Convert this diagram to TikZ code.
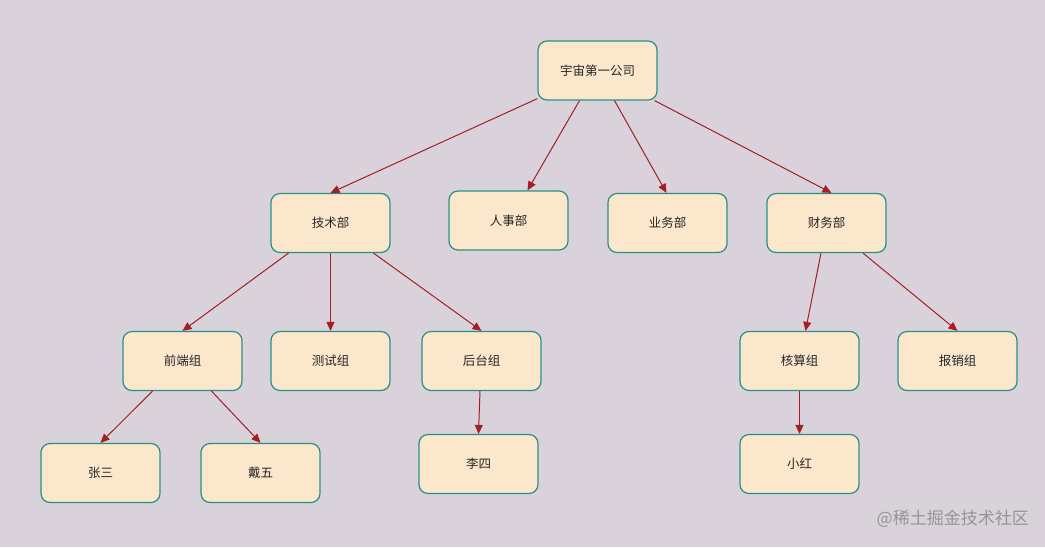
\documentclass[tikz,border=0pt]{standalone}
\usepackage{fontspec}
\newfontfamily\cjk{Noto Sans CJK SC}
\usetikzlibrary{arrows.meta}
\definecolor{bgc}{RGB}{217,210,218}
\definecolor{boxfill}{RGB}{251,231,203}
\definecolor{boxline}{RGB}{40,145,135}
\definecolor{arr}{RGB}{165,30,35}
\definecolor{wm}{RGB}{150,148,152}
\tikzset{
  orgbox/.style={draw=boxline, fill=boxfill, line width=1.2pt, rounded corners=9pt,
    minimum width=119pt, minimum height=59pt, inner sep=0pt,
    font=\cjk\fontsize{12.5}{14}\selectfont, text=black!85},
  link/.style={draw=arr, line width=1pt, -{Triangle[length=9pt,width=8pt]}}
}
\begin{document}
\begin{tikzpicture}[x=1pt,y=-1pt]
\fill[bgc] (0,0) rectangle (1045,547);
\useasboundingbox (0,0) rectangle (1045,547);
\node[orgbox] (root) at (597.5,70.5) {宇宙第一公司};
\node[orgbox] (tech) at (330.5,223) {技术部};
\node[orgbox] (hr) at (508.5,220.5) {人事部};
\node[orgbox] (biz) at (667.5,223) {业务部};
\node[orgbox] (fin) at (826.5,223) {财务部};
\node[orgbox] (fe) at (182.5,361) {前端组};
\node[orgbox] (qa) at (330.5,361) {测试组};
\node[orgbox] (be) at (481.5,361) {后台组};
\node[orgbox] (acc) at (799.5,361) {核算组};
\node[orgbox] (reim) at (957.5,361) {报销组};
\node[orgbox] (zs) at (100.5,473) {张三};
\node[orgbox] (dw) at (260.5,473) {戴五};
\node[orgbox] (ls) at (478.5,464) {李四};
\node[orgbox] (xh) at (799.5,464) {小红};
\node[font=\cjk\fontsize{17}{20}\selectfont, text=wm, anchor=east, inner sep=0pt] (wmk) at (1029,519) {@稀土掘金技术社区};

\draw[link] ([xshift=0pt,yshift=2pt]root.south west) -- (tech.north);
\draw[link] ([xshift=-18pt]root.south) -- ([xshift=19pt]hr.north);
\draw[link] ([xshift=17pt]root.south) -- ([xshift=-1pt]biz.north);
\draw[link] ([xshift=-3pt]root.south east) -- ([xshift=5pt]fin.north);

\draw[link] ([xshift=-42pt]tech.south) -- (fe.north);
\draw[link] (tech.south) -- (qa.north);
\draw[link] ([xshift=43pt]tech.south) -- (be.north);

\draw[link] ([xshift=-30pt]fe.south) -- (zs.north);
\draw[link] ([xshift=29pt]fe.south) -- (dw.north);

\draw[link] ([xshift=-1.5pt]be.south) -- (ls.north);

\draw[link] ([xshift=-5.5pt]fin.south) -- ([xshift=6pt]acc.north);
\draw[link] ([xshift=36.5pt]fin.south) -- (reim.north);

\draw[link] (acc.south) -- (xh.north);
\end{tikzpicture}
\end{document}
